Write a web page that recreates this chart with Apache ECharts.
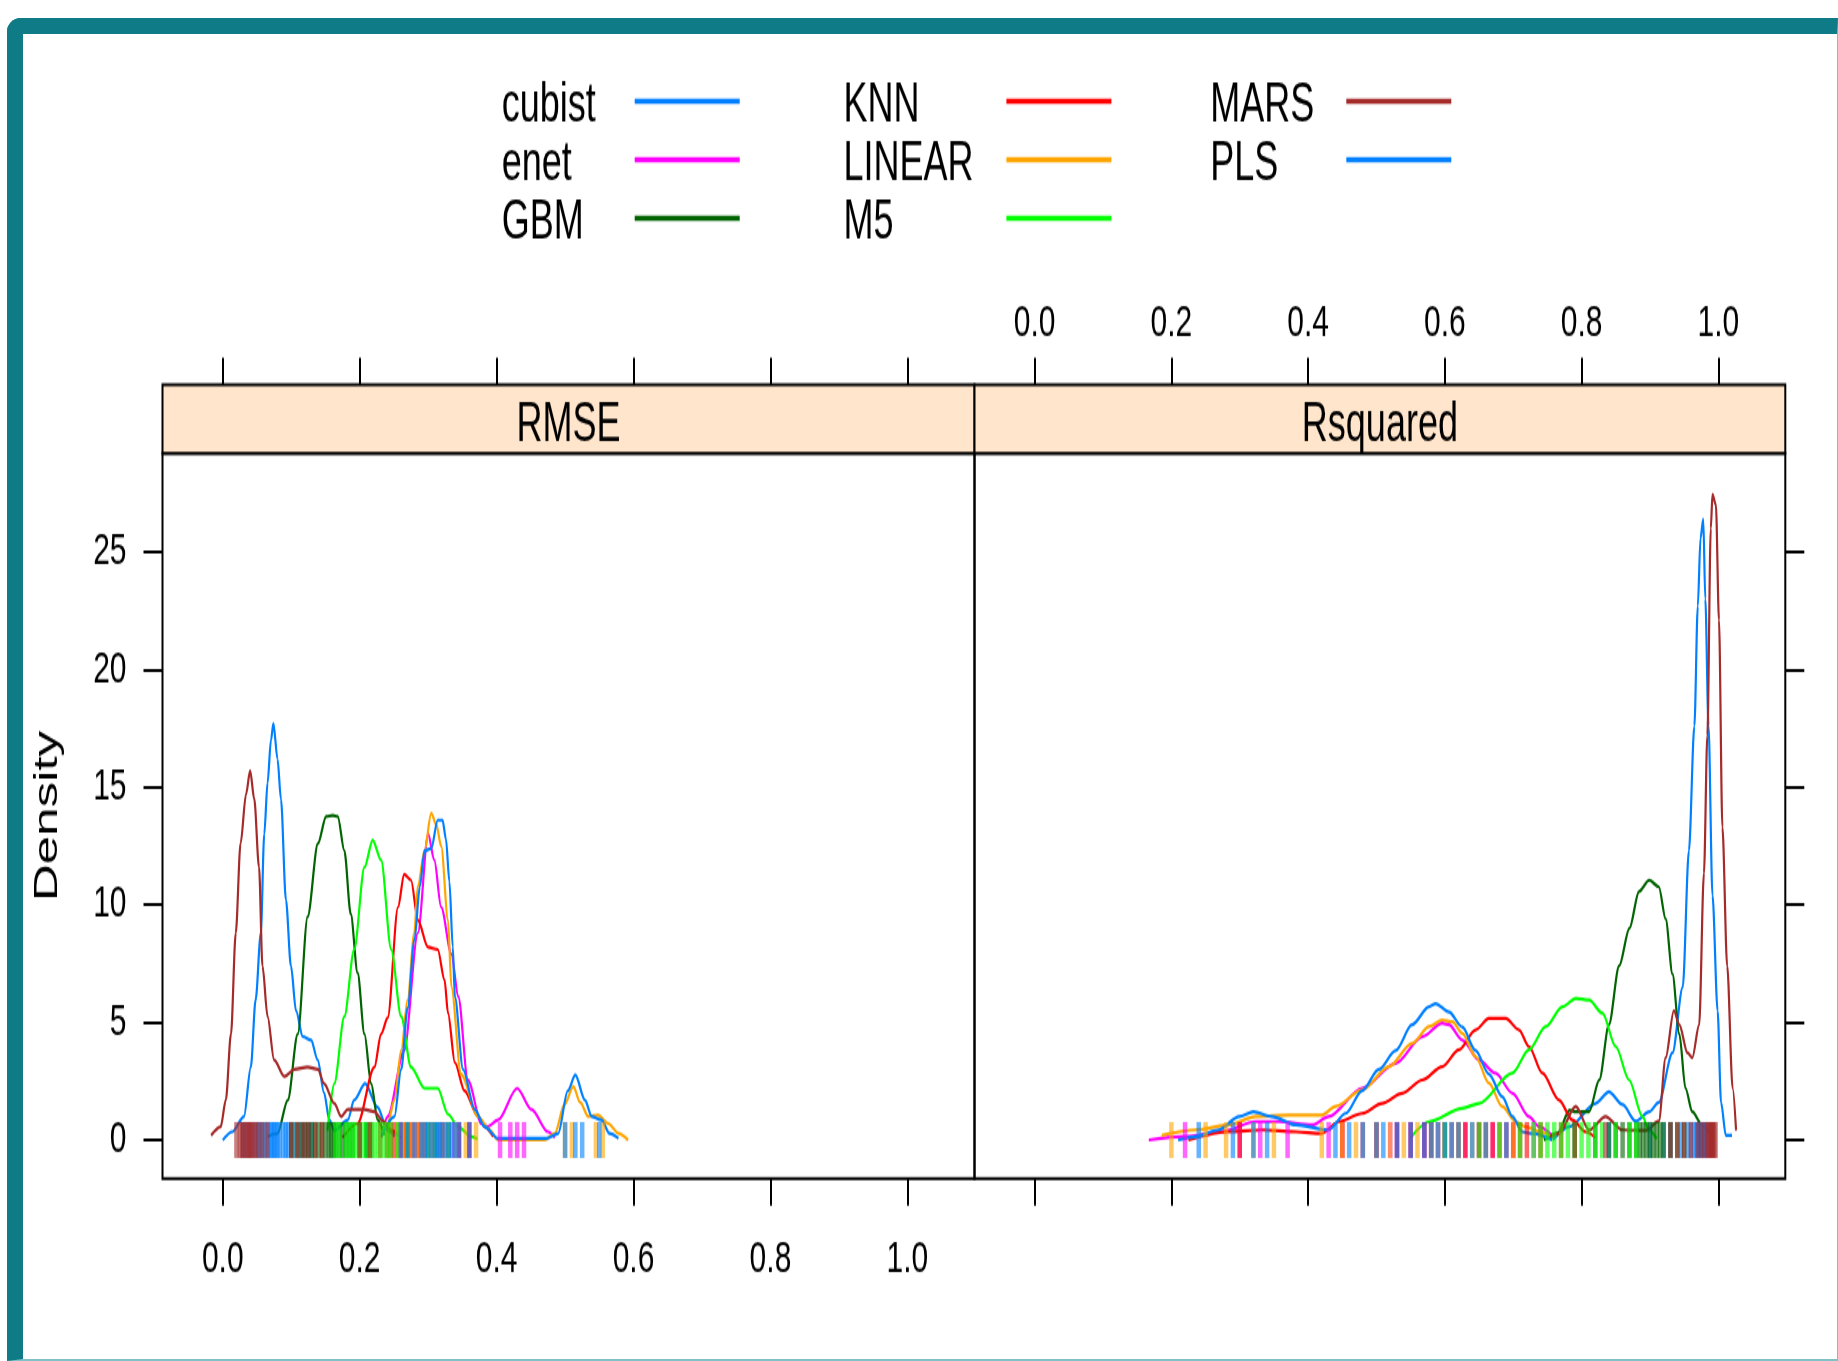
<!DOCTYPE html>
<html>
<head>
<meta charset="utf-8">
<title>RMSE / Rsquared densities</title>
<script src="https://cdn.jsdelivr.net/npm/echarts@6.0.0/dist/echarts.min.js"></script>
<style>
  html, body { margin: 0; padding: 0; background: #fff; }
  .page { position: relative; width: 1838px; height: 1361px; overflow: hidden; }
  .frame {
    position: absolute; left: 7px; top: 18px; right: 0; bottom: 0;
    box-sizing: border-box;
    border-top: 16px solid #0f7b86;
    border-left: 16px solid #0f7b86;
    border-right: 1px solid #7fc1c6;
    border-bottom: 2px solid #7fc1c6;
    border-top-left-radius: 14px;
  }
  /* the source picture is stretched vertically, so the chart is drawn flat and scaled */
  #chart {
    position: absolute; left: 0; top: 0;
    width: 1838px; height: 907.33px;
    transform: scaleY(1.5); transform-origin: 0 0;
  }
</style>
</head>
<body>
<div class="page">
  <div class="frame"></div>
  <div id="chart"></div>
</div>
<script>
  const models = ['cubist', 'enet', 'GBM', 'KNN', 'LINEAR', 'M5', 'MARS', 'PLS']
  const panelNames = ['RMSE', 'Rsquared']
  const xTicks = [0, 0.2, 0.4, 0.6, 0.8, 1.0]
  const yTicks = [0, 5, 10, 15, 20, 25]

  // density curves, [value, density]
  const rmseCubist = [[0.0, 0], [0.014, 0.35], [0.031, 1.0], [0.041, 3.1], [0.048, 5.95], [0.0556, 8.8], [0.0606, 13.0], [0.0655, 15.2], [0.0704, 17.0], [0.074, 17.7], [0.08, 16.2], [0.085, 14.5], [0.0923, 10.2], [0.0996, 7.4], [0.107, 5.5], [0.1168, 4.4], [0.129, 4.25], [0.1387, 3.4], [0.148, 2.0], [0.1557, 0.85], [0.163, 0.4], [0.1826, 0.85], [0.192, 1.7], [0.208, 2.4], [0.226, 1.4], [0.241, 0.4], [0.251, 0.15]]
  const rmseEnet = [[0.232, 0.1], [0.241, 1.0], [0.265, 3.8], [0.285, 8.8], [0.3, 13.0], [0.309, 11.9], [0.319, 9.9], [0.334, 7.9], [0.344, 6.1], [0.358, 2.55], [0.378, 0.7], [0.387, 0.57], [0.402, 0.85], [0.43, 2.2], [0.451, 1.3], [0.475, 0.35], [0.485, 0.1]]
  const rmseGbm = [[0.0655, 0.15], [0.08, 0.28], [0.095, 1.7], [0.1095, 4.5], [0.124, 9.5], [0.139, 12.6], [0.151, 13.75], [0.1607, 13.8], [0.168, 13.75], [0.1776, 12.3], [0.187, 9.6], [0.197, 7.1], [0.207, 4.5], [0.2167, 2.4], [0.2264, 0.85], [0.236, 0.2]]
  const rmseKnn = [[0.175, 0.1], [0.197, 0.7], [0.2215, 3.1], [0.2313, 4.5], [0.241, 5.2], [0.256, 9.9], [0.265, 11.3], [0.275, 11.05], [0.285, 9.35], [0.2997, 8.2], [0.314, 8.1], [0.324, 6.8], [0.329, 5.4], [0.339, 3.3], [0.353, 2.1], [0.373, 1.0], [0.3825, 0.57], [0.395, 0.15]]
  const rmseLinear = [[0.232, 0.2], [0.241, 0.7], [0.2508, 1.7], [0.2606, 3.8], [0.27, 5.95], [0.2797, 8.8], [0.285, 10.8], [0.2947, 12.3], [0.3045, 13.9], [0.312, 13.4], [0.319, 12.5], [0.329, 9.35], [0.334, 6.5], [0.348, 2.8], [0.373, 1.0], [0.39, 0.43], [0.402, 0], [0.47, 0], [0.485, 0.28], [0.499, 1.5], [0.512, 2.27], [0.522, 1.6], [0.534, 1.0], [0.548, 1.06], [0.563, 0.7], [0.578, 0.28], [0.592, 0]]
  const rmseM5 = [[0.153, 0.4], [0.163, 2.4], [0.1776, 5.25], [0.192, 8.1], [0.207, 11.6], [0.219, 12.75], [0.2313, 11.9], [0.246, 8.1], [0.2606, 5.25], [0.275, 3.1], [0.2947, 2.2], [0.314, 2.2], [0.329, 1.1], [0.3436, 0.57], [0.363, 0.14], [0.372, 0.05]]
  const rmseMars = [[-0.017, 0.2], [-0.003, 0.57], [0.0045, 1.7], [0.012, 4.5], [0.019, 8.8], [0.026, 12.6], [0.034, 14.7], [0.04, 15.7], [0.046, 14.5], [0.053, 11.6], [0.058, 7.4], [0.0655, 5.25], [0.075, 3.4], [0.09, 2.7], [0.1045, 3.0], [0.124, 3.1], [0.139, 3.0], [0.148, 2.4], [0.163, 1.55], [0.173, 1.0], [0.1825, 1.3], [0.207, 1.3], [0.2215, 1.2], [0.234, 0.8], [0.246, 0.4], [0.26, 0.1]]
  const rmsePls = [[0.232, 0.2], [0.2508, 1.0], [0.2606, 3.0], [0.27, 5.6], [0.28, 8.5], [0.288, 10.8], [0.2947, 12.3], [0.3045, 12.4], [0.314, 13.6], [0.321, 13.6], [0.326, 12.8], [0.331, 11.0], [0.336, 8.2], [0.339, 6.1], [0.351, 3.0], [0.368, 1.3], [0.3825, 0.57], [0.402, 0.07], [0.473, 0.07], [0.49, 0.28], [0.504, 2.1], [0.515, 2.76], [0.529, 1.7], [0.539, 1.0], [0.553, 0.85], [0.565, 0.28], [0.578, 0.07]]

  const rsqCubist = [[0.758, 0], [0.782, 0.57], [0.8207, 1.56], [0.84, 2.05], [0.86, 1.5], [0.879, 0.8], [0.899, 1.2], [0.913, 1.6], [0.933, 3.7], [0.948, 6.5], [0.957, 12.3], [0.965, 17.6], [0.97, 22.7], [0.974, 25.6], [0.978, 26.4], [0.981, 23], [0.9857, 17.6], [0.9915, 10.4], [0.999, 5.5], [1.004, 1.6], [1.011, 0.2], [1.02, 0.2]]
  const rsqEnet = [[0.167, 0], [0.22, 0.15], [0.274, 0.35], [0.323, 0.78], [0.357, 0.78], [0.406, 0.64], [0.43, 0.99], [0.479, 2.2], [0.528, 3.26], [0.567, 4.39], [0.596, 4.96], [0.606, 4.9], [0.6255, 4.25], [0.65, 3.4], [0.674, 2.84], [0.699, 1.99], [0.723, 1.0], [0.738, 0.57], [0.76, 0.1]]
  const rsqGbm = [[0.745, 0], [0.765, 0.3], [0.7826, 1.27], [0.7915, 1.2], [0.811, 1.2], [0.826, 2.56], [0.84, 4.9], [0.855, 7.4], [0.87, 9.0], [0.884, 10.56], [0.899, 11.05], [0.913, 10.76], [0.923, 9.4], [0.933, 7.06], [0.943, 4.5], [0.952, 2.2], [0.962, 1.2], [0.977, 0.6], [0.99, 0.2]]
  const rsqKnn = [[0.225, 0], [0.284, 0.35], [0.333, 0.43], [0.3815, 0.35], [0.42, 0.28], [0.445, 0.78], [0.479, 1.13], [0.508, 1.56], [0.5376, 1.99], [0.567, 2.55], [0.596, 3.12], [0.6206, 3.83], [0.645, 4.68], [0.6645, 5.17], [0.689, 5.17], [0.7085, 4.68], [0.723, 3.97], [0.7426, 2.84], [0.767, 1.7], [0.7865, 0.85], [0.806, 0.35], [0.82, 0.1]]
  const rsqLinear = [[0.186, 0.2], [0.235, 0.43], [0.284, 0.64], [0.323, 1.0], [0.372, 1.06], [0.42, 1.06], [0.44, 1.42], [0.479, 2.13], [0.518, 3.12], [0.552, 4.1], [0.577, 4.82], [0.596, 5.1], [0.611, 5.03], [0.6255, 4.54], [0.645, 3.54], [0.6645, 2.41], [0.684, 1.42], [0.7036, 0.78], [0.718, 0.57], [0.74, 0.35], [0.757, 0.1]]
  const rsqM5 = [[0.55, 0.1], [0.577, 0.78], [0.6255, 1.35], [0.65, 1.56], [0.6987, 2.84], [0.723, 3.83], [0.7476, 4.82], [0.772, 5.67], [0.7915, 6.02], [0.811, 5.95], [0.8305, 5.39], [0.85, 3.97], [0.8695, 2.55], [0.889, 1.0], [0.899, 0.4], [0.91, 0.05]]
  const rsqMars = [[0.75, 0.05], [0.767, 0.28], [0.7915, 1.42], [0.811, 0.43], [0.835, 1.0], [0.86, 0.43], [0.894, 0.4], [0.913, 0.8], [0.923, 3.5], [0.935, 5.5], [0.943, 4.9], [0.955, 3.7], [0.962, 3.5], [0.972, 4.9], [0.979, 11.35], [0.984, 17.2], [0.989, 26.0], [0.9915, 27.45], [0.9965, 27.0], [1.001, 22.1], [1.006, 13.3], [1.013, 7.4], [1.021, 2.2], [1.026, 0.4]]
  const rsqPls = [[0.21, 0], [0.235, 0.14], [0.269, 0.43], [0.299, 1.0], [0.32, 1.2], [0.347, 1.0], [0.382, 0.64], [0.43, 0.43], [0.455, 1.13], [0.479, 2.1], [0.5035, 3.0], [0.528, 3.8], [0.552, 4.9], [0.577, 5.67], [0.5865, 5.8], [0.606, 5.45], [0.6255, 4.8], [0.645, 3.8], [0.6645, 2.8], [0.684, 1.84], [0.699, 1.0], [0.713, 0.35], [0.728, 0.28], [0.757, 0]]

  // resample values, drawn as rug marks on the zero line
  const rmseCubistRug = [0.03, 0.035, 0.042, 0.048, 0.052, 0.055, 0.058, 0.062, 0.066, 0.07, 0.072, 0.075, 0.077, 0.08, 0.083, 0.088, 0.092, 0.095, 0.1, 0.105, 0.112, 0.118, 0.125, 0.13, 0.21]
  const rmseEnetRug = [0.26, 0.27, 0.275, 0.285, 0.29, 0.295, 0.298, 0.3, 0.303, 0.306, 0.31, 0.315, 0.322, 0.33, 0.338, 0.345, 0.36, 0.405, 0.42, 0.43, 0.44]
  const rmseGbmRug = [0.1, 0.108, 0.115, 0.12, 0.125, 0.13, 0.135, 0.14, 0.145, 0.15, 0.155, 0.158, 0.162, 0.165, 0.17, 0.175, 0.18, 0.185, 0.19, 0.2, 0.21]
  const rmseKnnRug = [0.215, 0.23, 0.24, 0.245, 0.25, 0.255, 0.26, 0.265, 0.268, 0.272, 0.278, 0.285, 0.29, 0.295, 0.3, 0.305, 0.31, 0.32, 0.33, 0.345, 0.36]
  const rmseLinearRug = [0.255, 0.265, 0.275, 0.285, 0.29, 0.295, 0.3, 0.302, 0.305, 0.308, 0.31, 0.315, 0.32, 0.325, 0.33, 0.34, 0.355, 0.37, 0.5, 0.51, 0.545, 0.555]
  const rmseM5Rug = [0.165, 0.17, 0.18, 0.185, 0.19, 0.195, 0.2, 0.205, 0.21, 0.215, 0.218, 0.222, 0.228, 0.235, 0.24, 0.245, 0.255, 0.27, 0.3, 0.31, 0.33]
  const rmseMarsRug = [0.02, 0.025, 0.028, 0.03, 0.033, 0.036, 0.038, 0.04, 0.042, 0.045, 0.048, 0.052, 0.058, 0.065, 0.1, 0.11, 0.118, 0.125, 0.135, 0.145, 0.2, 0.215]
  const rmsePlsRug = [0.26, 0.27, 0.28, 0.29, 0.295, 0.3, 0.305, 0.31, 0.313, 0.317, 0.32, 0.325, 0.33, 0.335, 0.34, 0.345, 0.36, 0.5, 0.515, 0.525, 0.55]

  const rsqCubistRug = [0.84, 0.9, 0.92, 0.93, 0.945, 0.955, 0.96, 0.965, 0.968, 0.97, 0.972, 0.974, 0.976, 0.978, 0.98, 0.982, 0.985, 0.99]
  const rsqEnetRug = [0.22, 0.3, 0.33, 0.37, 0.43, 0.45, 0.48, 0.5, 0.52, 0.53, 0.55, 0.57, 0.58, 0.59, 0.6, 0.61, 0.63, 0.65, 0.67, 0.7, 0.73]
  const rsqGbmRug = [0.79, 0.82, 0.84, 0.85, 0.86, 0.87, 0.88, 0.885, 0.89, 0.895, 0.9, 0.905, 0.91, 0.915, 0.92, 0.93, 0.94, 0.95]
  const rsqKnnRug = [0.3, 0.45, 0.5, 0.53, 0.55, 0.57, 0.58, 0.6, 0.62, 0.63, 0.65, 0.66, 0.67, 0.68, 0.69, 0.7, 0.71, 0.72, 0.74, 0.77]
  const rsqLinearRug = [0.2, 0.25, 0.28, 0.32, 0.35, 0.42, 0.45, 0.47, 0.48, 0.5, 0.52, 0.54, 0.56, 0.58, 0.59, 0.6, 0.61, 0.62, 0.64, 0.66, 0.7]
  const rsqM5Rug = [0.6, 0.65, 0.68, 0.71, 0.73, 0.74, 0.75, 0.76, 0.77, 0.78, 0.79, 0.8, 0.81, 0.82, 0.83, 0.85, 0.87, 0.88]
  const rsqMarsRug = [0.79, 0.835, 0.93, 0.94, 0.95, 0.96, 0.97, 0.975, 0.98, 0.984, 0.986, 0.988, 0.99, 0.991, 0.992, 0.994, 0.996]
  const rsqPlsRug = [0.24, 0.29, 0.32, 0.34, 0.44, 0.46, 0.48, 0.5, 0.51, 0.53, 0.55, 0.57, 0.58, 0.59, 0.6, 0.61, 0.62, 0.64, 0.66, 0.69]

  const rmseCurves = [rmseCubist, rmseEnet, rmseGbm, rmseKnn, rmseLinear, rmseM5, rmseMars, rmsePls]
  const rsqCurves = [rsqCubist, rsqEnet, rsqGbm, rsqKnn, rsqLinear, rsqM5, rsqMars, rsqPls]
  const rmseRugs = [rmseCubistRug, rmseEnetRug, rmseGbmRug, rmseKnnRug, rmseLinearRug, rmseM5Rug, rmseMarsRug, rmsePlsRug]
  const rsqRugs = [rsqCubistRug, rsqEnetRug, rsqGbmRug, rsqKnnRug, rsqLinearRug, rsqM5Rug, rsqMarsRug, rsqPlsRug]

  // lattice superpose colours (the 8th recycles the first)
  const lineColors = ['#0080ff', '#ff00ff', '#006400', '#ff0000', '#ffa500', '#00ff00', '#a52a2a', '#0080ff']

  const FONT = '"Liberation Sans", Arial, sans-serif'
  const X_MIN = -0.088, X_MAX = 1.098
  const Y_MIN = -1.64, Y_MAX = 29.19
  // layout in unscaled pixels
  const PANEL_TOP = 302.3, PANEL_H = 483.4, STRIP_H = 45.9
  const panels = [{left: 162.5, width: 812}, {left: 974.5, width: 810.8}]

  let chart = echarts.init(document.getElementById('chart'))

  const tickStyle = {color: '#000', width: 2}
  const axisText = {fontFamily: FONT, fontSize: 30, color: '#000'}

  function xAxisFor (grid, position, showLabels) {
    return {
      type: 'value', gridIndex: grid, position: position,
      offset: position === 'top' ? STRIP_H : 0,
      min: X_MIN, max: X_MAX,
      axisLine: {show: false, onZero: false},
      splitLine: {show: false},
      axisTick: {show: true, customValues: xTicks, length: 18, lineStyle: tickStyle},
      axisLabel: Object.assign({
        show: showLabels, customValues: xTicks,
        formatter: v => v.toFixed(1),
        margin: position === 'top' ? 26 : 39
      }, axisText)
    }
  }

  function yAxisFor (grid, position) {
    return {
      type: 'value', gridIndex: grid, position: position,
      min: Y_MIN, max: Y_MAX,
      axisLine: {show: false, onZero: false},
      splitLine: {show: false},
      axisTick: {show: true, customValues: yTicks, length: 19, lineStyle: tickStyle},
      axisLabel: Object.assign({
        show: position === 'left', customValues: yTicks, margin: 36, padding: [14, 0, 0, 0]
      }, axisText)
    }
  }

  let series = []
  models.forEach((name, i) => {
    [[rmseCurves[i], 0, 0], [rsqCurves[i], 2, 1]].forEach(([curve, xi, yi]) => {
      series.push({
        name: name, type: 'line', xAxisIndex: xi, yAxisIndex: yi,
        data: curve, showSymbol: false, smooth: 0.3, smoothMonotone: 'x',
        lineStyle: {color: lineColors[i], width: 2.2},
        itemStyle: {color: lineColors[i]},
        z: 2, silent: true
      })
    })
  })
  models.forEach((name, i) => {
    [[rmseRugs[i], 0, 0], [rsqRugs[i], 2, 1]].forEach(([rug, xi, yi]) => {
      series.push({
        name: name, type: 'scatter', xAxisIndex: xi, yAxisIndex: yi,
        data: rug.map(v => [v, 0]),
        symbol: 'rect', symbolSize: [4.5, 24],
        itemStyle: {color: lineColors[i], opacity: 0.6},
        z: 3, silent: true
      })
    })
  })

  const legendCols = [
    {names: ['cubist', 'enet', 'GBM'], left: 501.7, textW: 128},
    {names: ['KNN', 'LINEAR', 'M5'], left: 843.4, textW: 158},
    {names: ['MARS', 'PLS'], left: 1210.3, textW: 131}
  ]

  let yLeft = yAxisFor(0, 'left')
  yLeft.name = 'Density'
  yLeft.nameLocation = 'middle'
  yLeft.nameRotate = 90
  yLeft.nameGap = 98
  yLeft.nameTextStyle = {fontFamily: FONT, fontSize: 34, color: '#000'}

  let option = {
    animation: false,
    grid: panels.map(p => ({
      left: p.left, width: p.width, top: PANEL_TOP, height: PANEL_H,
      show: true, borderColor: '#000', borderWidth: 2,
      outerBoundsMode: 'none'
    })),
    legend: legendCols.map(c => ({
      data: c.names,
      left: c.left, top: 46,
      orient: 'vertical', align: 'right',
      padding: 0, itemGap: -4,
      itemWidth: 105, itemHeight: 3.5, icon: 'rect',
      selectedMode: false,
      formatter: n => '{n|' + n + '}',
      textStyle: {
        rich: {
          n: {width: c.textW, align: 'left', fontFamily: FONT, fontSize: 36, color: '#000', lineHeight: 36, padding: [7, 0, 0, 0]}
        }
      }
    })),
    xAxis: [
      xAxisFor(0, 'bottom', true),
      xAxisFor(0, 'top', false),
      xAxisFor(1, 'bottom', false),
      xAxisFor(1, 'top', true)
    ],
    yAxis: [yLeft, yAxisFor(1, 'right')],
    graphic: panels.map((p, k) => ({
      type: 'group', silent: true,
      children: [
        {
          type: 'rect',
          shape: {x: p.left, y: PANEL_TOP - STRIP_H, width: p.width, height: STRIP_H},
          style: {fill: '#ffe5cc', stroke: '#000', lineWidth: 2}
        },
        {
          type: 'text', x: p.left + p.width / 2, y: PANEL_TOP - STRIP_H / 2 + 5,
          style: {text: panelNames[k], fill: '#000', fontFamily: FONT, fontSize: 36, align: 'center', verticalAlign: 'middle'}
        }
      ]
    })),
    series: series
  }
  chart.setOption(option)
</script>
</body>
</html>
